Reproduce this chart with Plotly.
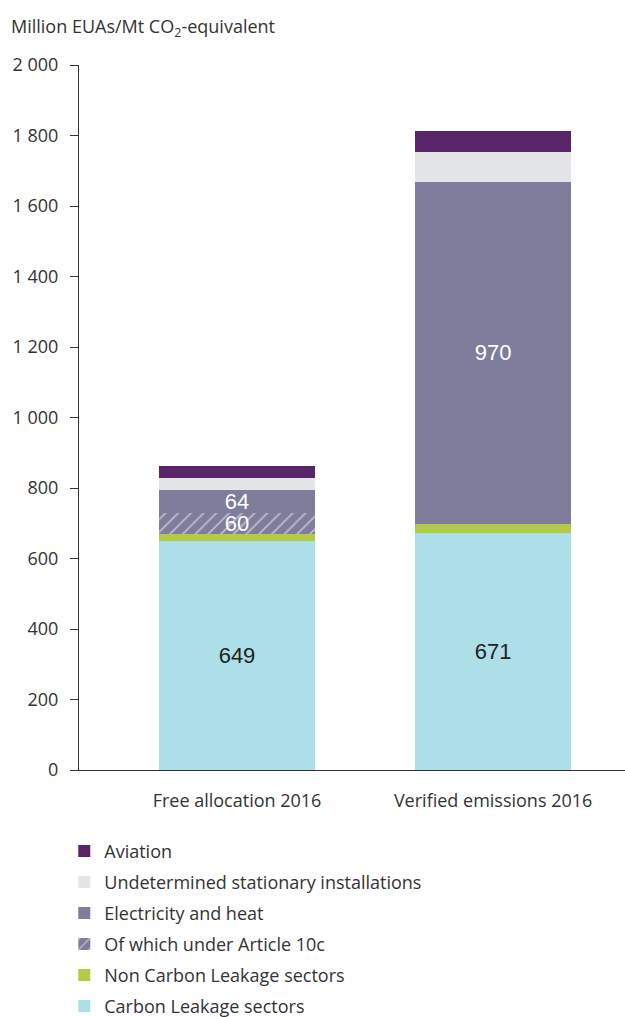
import plotly.graph_objects as go

categories = ["Free allocation 2016", "Verified emissions 2016"]
carbon_leakage = [649, 671]
non_carbon_leakage = [20, 28]
article_10c = [60, 0]
electricity_heat = [64, 970]
undetermined = [36, 83]
aviation = [34, 60]

series = [
    ("Carbon Leakage sectors", carbon_leakage, "#addfe8", None, ["649", "671"], "#222222", 6),
    ("Non Carbon Leakage sectors", non_carbon_leakage, "#b2cb45", None, None, "#ffffff", 5),
    ("Of which under Article 10c", article_10c, "#7f7d9c", "/", ["60", None], "#ffffff", 4),
    ("Electricity and heat", electricity_heat, "#7f7d9c", None, ["64", "970"], "#ffffff", 3),
    ("Undetermined stationary installations", undetermined, "#e4e5e7", None, None, "#222222", 2),
    ("Aviation", aviation, "#5a2468", None, None, "#ffffff", 1),
]

fig = go.Figure()
for name, vals, color, pat, txt, tcolor, rank in series:
    marker = dict(color=color, line=dict(width=0))
    if pat:
        marker["pattern"] = dict(shape=pat, fgcolor="#ffffff", bgcolor=color, size=9, solidity=0.18)
    kw = {}
    if txt is not None:
        kw = dict(text=txt, textposition="inside", insidetextanchor="middle", textangle=0,
                  textfont=dict(size=22, color=tcolor, family="Liberation Sans, Arial"))
    else:
        kw = dict(textposition="none")
    fig.add_trace(go.Bar(
        x=categories, y=vals, name=name, marker=marker,
        legendgroup=name, legendrank=rank, width=0.61,
        hoverinfo="skip", **kw,
    ))

fig.update_layout(
    barmode="stack",
    width=625, height=1017,
    margin=dict(l=79, r=0, t=65, b=247, autoexpand=False),
    paper_bgcolor="white", plot_bgcolor="white",
    font=dict(family="Open Sans", size=18, color="#333333"),
    separators=". ",
    uniformtext=dict(mode="show", minsize=22),
    showlegend=True,
    legend=dict(
        x=-0.027, y=-0.089, xanchor="left", yanchor="top",
        orientation="v", tracegroupgap=4.6,
        font=dict(size=18, color="#333333"),
        itemwidth=30,
    ),
    xaxis=dict(
        range=[-0.617, 1.515],
        showline=True, linecolor="#333333", linewidth=1.2,
        ticks="outside", ticklen=14, tickcolor="rgba(0,0,0,0)", showgrid=False,
        tickfont=dict(size=18),
    ),
    yaxis=dict(
        range=[0, 2000], tickvals=[0, 200, 400, 600, 800, 1000, 1200, 1400, 1600, 1800, 2000],
        tickformat=",d", showline=True, linecolor="#333333", linewidth=1.2,
        ticks="outside", ticklen=8, tickcolor="#333333", showgrid=False, zeroline=False,
        tickfont=dict(size=18), ticklabelstandoff=8,
    ),
    annotations=[dict(
        text="Million EUAs/Mt CO<sub>2</sub>-equivalent", x=0, xref="paper", xanchor="left",
        xshift=-70, y=2000, yref="y", yshift=38, yanchor="middle", showarrow=False,
        font=dict(size=18, color="#333333"),
    )],
)

post = (
    "document.body.style.margin='0';"
    "document.documentElement.style.overflow='hidden';"
    "document.body.style.overflow='hidden';"
    "Plotly.relayout(document.getElementById('{plot_id}'), {width:625, height:1017});"
)
fig.write_html("out.html", post_script=post, config={"displayModeBar": False})
